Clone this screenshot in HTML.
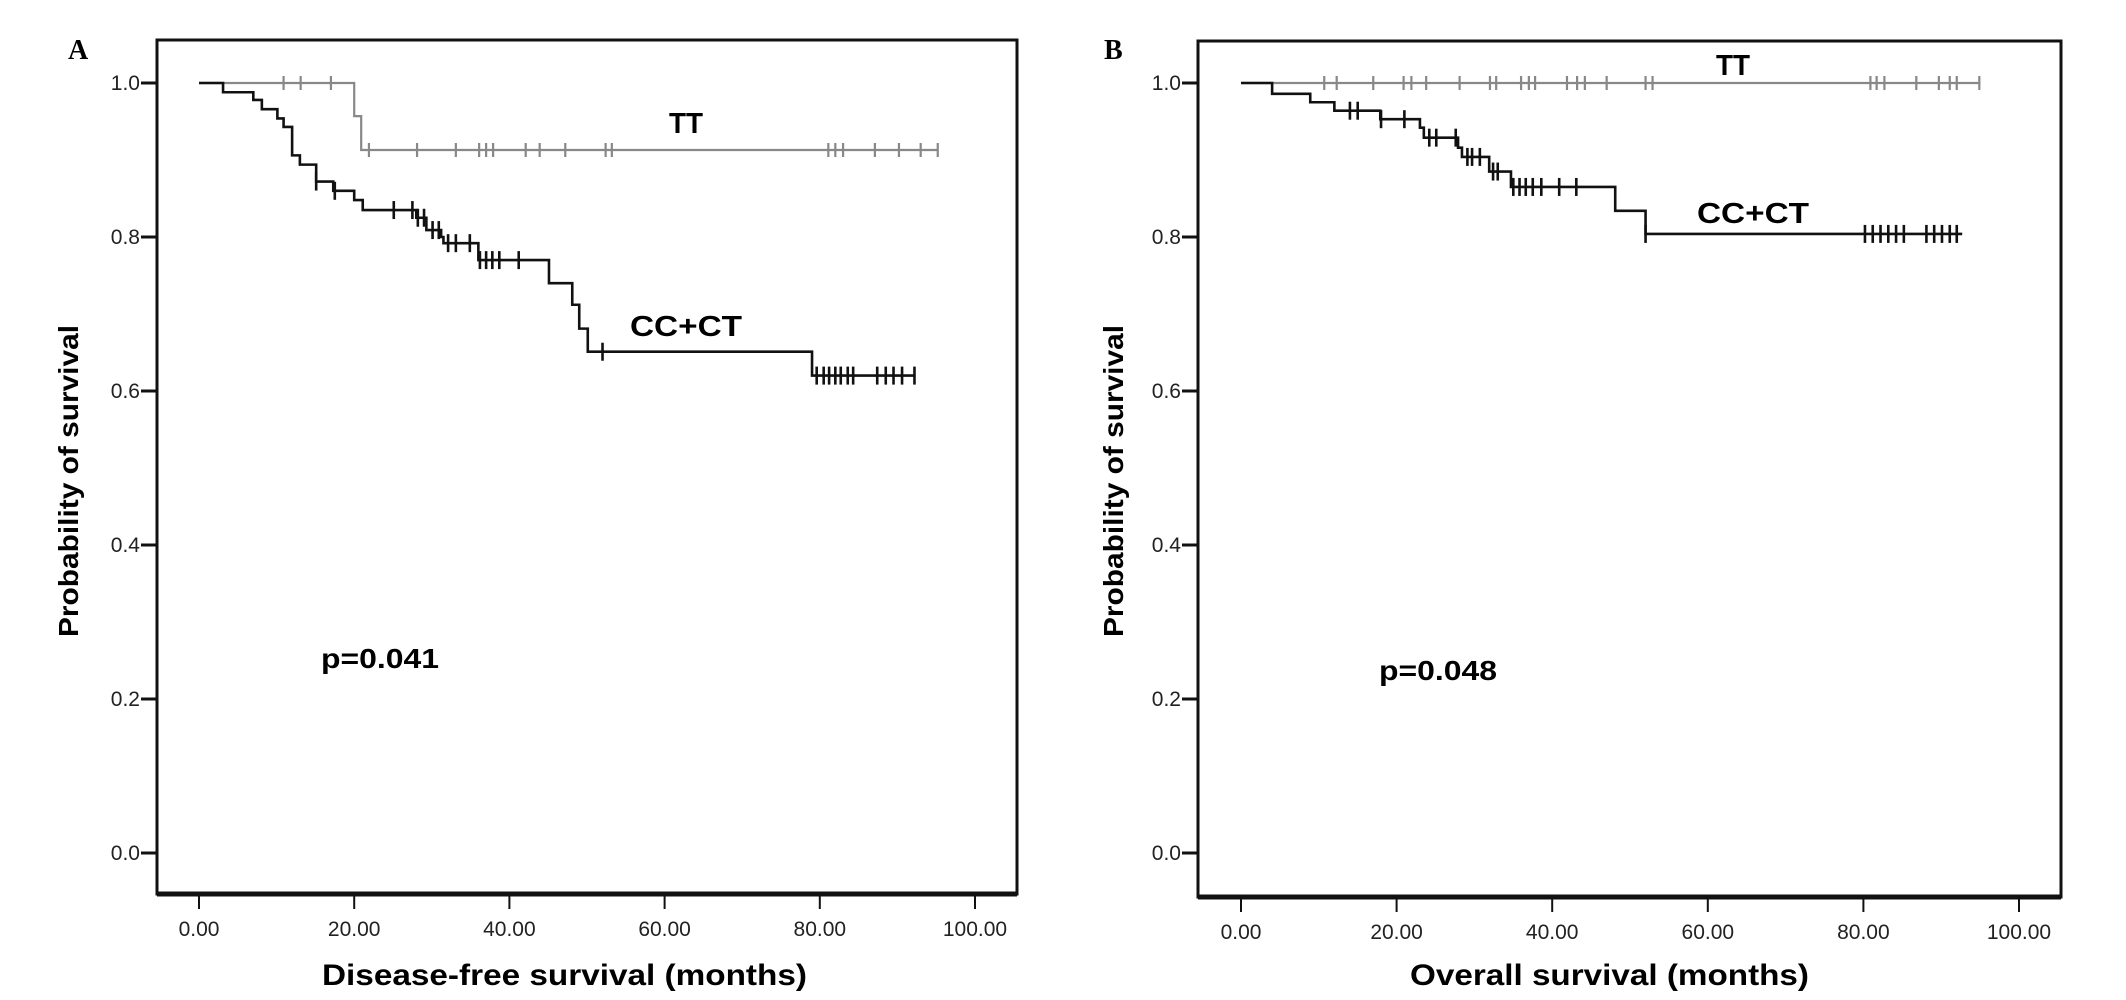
<!DOCTYPE html>
<html><head><meta charset="utf-8"><style>
html,body{margin:0;padding:0;background:#fff;}
svg{display:block;}
text{font-family:"Liberation Sans",Arial,sans-serif;}
text.serif{font-family:"Liberation Serif",serif;}
</style></head>
<body>
<svg id="fig" width="2126" height="1000" viewBox="0 0 2126 1000" xmlns="http://www.w3.org/2000/svg"></svg>
<script>
// ---- data ----
const xTicks = [0, 20, 40, 60, 80, 100];
const xTickLabels = ["0.00", "20.00", "40.00", "60.00", "80.00", "100.00"];
const yTicks = [0, 0.2, 0.4, 0.6, 0.8, 1.0];
const yTickLabels = ["0.0", "0.2", "0.4", "0.6", "0.8", "1.0"];

// Panel A: disease-free survival
const aTTStepTimes = [20.0, 20.9];
const aTTStepValues = [0.957, 0.913];
const aTTEnd = 95.2;
const aTTCensor = [10.9, 13.1, 17.0, 21.9, 28.1, 33.1, 36.1, 37.0, 37.9, 42.1, 43.9, 47.2, 52.4, 53.2, 81.1, 82.0, 83.0, 87.1, 90.2, 93.0, 95.2];
const aCCStepTimes = [3.1, 7.0, 8.1, 10.1, 10.9, 12.0, 13.0, 15.1, 17.3, 20.0, 21.1, 28.0, 29.3, 31.2, 31.5, 36.0, 45.1, 48.1, 49.0, 50.1, 79.0];
const aCCStepValues = [0.988, 0.978, 0.966, 0.954, 0.943, 0.906, 0.894, 0.872, 0.860, 0.848, 0.835, 0.825, 0.809, 0.800, 0.792, 0.770, 0.740, 0.712, 0.681, 0.651, 0.620];
const aCCEnd = 92.2;
const aCCCensor = [15.1, 17.5, 25.1, 27.5, 28.2, 29.0, 30.1, 30.9, 32.1, 33.1, 34.9, 36.2, 37.0, 37.8, 38.7, 41.2, 52.0, 79.6, 80.5, 81.2, 82.0, 82.7, 83.6, 84.3, 87.4, 88.5, 89.5, 90.6, 92.2];

// Panel B: overall survival
const bTTStepTimes = [];
const bTTStepValues = [];
const bTTEnd = 94.9;
const bTTCensor = [10.7, 12.3, 17.0, 20.9, 21.9, 23.8, 28.1, 32.0, 32.8, 36.0, 37.0, 37.8, 41.9, 43.2, 44.2, 47.0, 52.0, 52.9, 80.9, 81.7, 82.7, 86.8, 89.7, 91.1, 92.0, 94.9];
const bCCStepTimes = [4.0, 8.9, 12.0, 17.9, 23.0, 23.5, 27.9, 28.4, 31.9, 34.7, 48.1, 52.0];
const bCCStepValues = [0.986, 0.975, 0.964, 0.953, 0.942, 0.929, 0.916, 0.904, 0.885, 0.865, 0.834, 0.804];
const bCCEnd = 92.7;
const bCCCensor = [14.0, 15.0, 18.0, 21.0, 24.2, 25.1, 27.6, 29.1, 29.7, 30.7, 32.4, 33.0, 35.0, 35.8, 36.6, 37.5, 38.6, 40.9, 43.1, 52.0, 80.2, 81.2, 82.2, 83.2, 84.2, 85.2, 88.1, 89.1, 90.1, 91.1, 92.0];

const NS = "http://www.w3.org/2000/svg";
const svg = document.getElementById('fig');
function mk(tag, attrs, parent) {
  const e = document.createElementNS(NS, tag);
  for (const k in attrs) e.setAttribute(k, attrs[k]);
  (parent || svg).appendChild(e);
  return e;
}

function panel(cfg) {
  const g = mk('g', {});
  
  
  const xs = v => cfg.x0 + (v - 0) / 100 * (cfg.x100 - cfg.x0);
  const ys = v => cfg.y0 - v * (cfg.y0 - cfg.y1);

  const fr = mk('rect', {x: cfg.fl, y: cfg.ft, width: cfg.fr - cfg.fl, height: cfg.fb - cfg.ft, fill: 'none', stroke: '#111', 'stroke-width': 3}, g);
  
  
  const bl = mk('line', {x1: cfg.fl, x2: cfg.fr, y1: cfg.fb, y2: cfg.fb, stroke: '#111', 'stroke-width': 5}, g);
  
  

  xTicks.forEach((t, i) => {
    const x = xs(t);
    const tl = mk('line', {x1: x, x2: x, y1: cfg.fb + 2, y2: cfg.fb + 15, stroke: '#111', 'stroke-width': 2}, g);
    
    
    const tx = mk('text', {x: x, y: cfg.fb + 42, 'text-anchor': 'middle', 'font-size': 21, fill: '#222'}, g);
    tx.textContent = xTickLabels[i];
    
    
  });
  yTicks.forEach((t, i) => {
    const y = ys(t);
    const tl = mk('line', {x1: cfg.fl - 16, x2: cfg.fl, y1: y, y2: y, stroke: '#111', 'stroke-width': 3}, g);
    
    
    const tx = mk('text', {x: cfg.fl - 17, y: y + 7, 'text-anchor': 'end', 'font-size': 21, fill: '#222'}, g);
    tx.textContent = yTickLabels[i];
    
    
  });

  function curve(name, times, vals, end, censor, color, width, th) {
    let d = 'M' + xs(0) + ' ' + ys(1);
    for (let i = 0; i < times.length; i++) {
      d += ' H' + xs(times[i]) + ' V' + ys(vals[i]);
    }
    d += ' H' + xs(end);
    const p = mk('path', {d: d, fill: 'none', stroke: color, 'stroke-width': width}, g);
    
    
    censor.forEach(c => {
      let v = 1;
      for (let i = 0; i < times.length; i++) if (times[i] <= c) v = vals[i];
      const x = xs(c), y = ys(v);
      const m = mk('line', {x1: x, x2: x, y1: y - th, y2: y + th, stroke: color, 'stroke-width': width}, g);
      
      
    });
  }
  curve('tt', cfg.ttT, cfg.ttV, cfg.ttE, cfg.ttC, '#888', 2.2, 7);
  curve('cc-ct', cfg.ccT, cfg.ccV, cfg.ccE, cfg.ccC, '#111', 2.6, 9);

  function label(txt, x, y, size, name, len, extra, cls) {
    const a = Object.assign({x: x, y: y, 'font-size': size, 'font-weight': 'bold', fill: '#000'}, extra || {});
    if (len) { a.textLength = len; a.lengthAdjust = 'spacingAndGlyphs'; }
    if (cls) a['class'] = cls;
    const t = mk('text', a, g);
    t.textContent = txt;
    
    
    return t;
  }
  label(cfg.letter, cfg.letterX, 59, 28, 'panel-label', null, null, 'serif');
  label('TT', cfg.ttLX, cfg.ttLY, 29, 'tt-label', 34);
  label('CC+CT', cfg.ccLX, cfg.ccLY, 29, 'cc-ct-label', 112);
  label(cfg.p, cfg.pX, cfg.pY, 28, 'p-value-label', 118);
  label(cfg.xTitle, cfg.xtX, 985, 30, 'x-axis-title', cfg.xtLen);
  label('Probability of survival', 0, 0, 28, 'y-axis-title', 312, {'text-anchor': 'middle', transform: 'translate(' + cfg.ytX + ',481) rotate(-90)'});
}

panel({name: 'panel-a-disease-free', letter: 'A', letterX: 68,
  fl: 157, fr: 1017, ft: 40, fb: 894, x0: 199, x100: 975, y0: 853, y1: 83,
  ttT: aTTStepTimes, ttV: aTTStepValues, ttE: aTTEnd, ttC: aTTCensor,
  ccT: aCCStepTimes, ccV: aCCStepValues, ccE: aCCEnd, ccC: aCCCensor,
  ttLX: 669, ttLY: 133, ccLX: 630, ccLY: 336, p: 'p=0.041', pX: 321, pY: 668,
  xTitle: 'Disease-free survival (months)', xtX: 322, xtLen: 485, ytX: 78});

panel({name: 'panel-b-overall', letter: 'B', letterX: 1104,
  fl: 1198, fr: 2061, ft: 41, fb: 897, x0: 1241, x100: 2019, y0: 853, y1: 83,
  ttT: bTTStepTimes, ttV: bTTStepValues, ttE: bTTEnd, ttC: bTTCensor,
  ccT: bCCStepTimes, ccV: bCCStepValues, ccE: bCCEnd, ccC: bCCCensor,
  ttLX: 1716, ttLY: 75, ccLX: 1697, ccLY: 223, p: 'p=0.048', pX: 1379, pY: 680,
  xTitle: 'Overall survival (months)', xtX: 1410, xtLen: 399, ytX: 1123});
</script>
</body></html>
